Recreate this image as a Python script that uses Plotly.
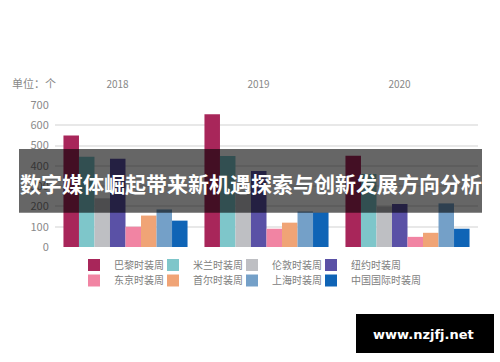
import plotly.graph_objects as go

years = ["2018", "2019", "2020"]
series_names = ["巴黎时装周", "米兰时装周", "伦敦时装周", "纽约时装周",
                "东京时装周", "首尔时装周", "上海时装周", "中国国际时装周"]
paris = [550, 655, 450]
milan = [445, 448, 360]
london = [240, 265, 200]
newyork = [435, 375, 212]
tokyo = [100, 90, 50]
seoul = [155, 120, 70]
shanghai = [185, 175, 215]
china = [130, 170, 90]
values = [paris, milan, london, newyork, tokyo, seoul, shanghai, china]
colors = ["#A8265A", "#7EC6CA", "#BEBFC3", "#5A51A6",
          "#F184A3", "#F0A476", "#74A0C8", "#0F64B6"]
y_ticks = [0, 100, 200, 300, 400, 500, 600, 700]
unit_label = "单位：个"
banner_title = "数字媒体崛起带来新机遇探索与创新发展方向分析"
watermark = "www.nzjfj.net"

CJK = "Noto Sans CJK SC, sans-serif"

fig = go.Figure()
for i, (name, vals, col) in enumerate(zip(series_names, values, colors)):
    fig.add_trace(go.Bar(
        x=years, y=vals, name=name, marker=dict(color=col, line=dict(width=0)),
        legend="legend" if i < 4 else "legend2",
        legendwidth=90 if i in (3, 7) else None,
    ))

W, H = 500, 362
ml, mr, mt, mb = 55, 22, 105, 115
pw, ph = W - ml - mr, H - mt - mb

def px(x):
    return (x - ml) / pw

def py(y):
    return (H - mb - y) / ph

legend_common = dict(
    orientation="h", xanchor="left", yanchor="middle",
    entrywidth=34, entrywidthmode="pixels",
    font=dict(family=CJK, size=10, color="#808080"),
    bgcolor="rgba(0,0,0,0)", itemclick=False, itemdoubleclick=False,
    tracegroupgap=0,
)

fig.update_layout(
    width=W, height=H,
    margin=dict(l=ml, r=mr, t=mt, b=mb, autoexpand=False),
    paper_bgcolor="white", plot_bgcolor="white",
    barmode="group", bargap=0.12, bargroupgap=0,
    font=dict(family=CJK),
    showlegend=True,
    legend=dict(x=px(74), y=py(265), **legend_common),
    legend2=dict(x=px(74), y=py(280.5), **legend_common),
    xaxis=dict(
        side="top", showgrid=False, zeroline=False, showline=False,
        tickfont=dict(family=CJK, size=10, color="#888888"),
        ticks="outside", ticklen=12, tickcolor="rgba(0,0,0,0)",
        ticklabelshift=-8,
    ),
    yaxis=dict(
        range=[0, 700], tickvals=y_ticks, showgrid=True,
        gridcolor="#E8E8E8", gridwidth=1.5, zeroline=False, showline=False,
        tickfont=dict(family=CJK, size=11, color="#8A8A8A"),
        ticks="outside", ticklen=3, tickcolor="rgba(0,0,0,0)",
    ),
    shapes=[
        dict(type="rect", xref="paper", yref="paper",
             x0=px(19), x1=px(482), y0=py(212.7), y1=py(149),
             fillcolor="rgba(0,0,0,0.6)", line=dict(width=0), layer="above"),
        dict(type="rect", xref="paper", yref="paper",
             x0=px(356), x1=px(494), y0=py(353), y1=py(314),
             fillcolor="black", line=dict(width=0), layer="above"),
    ],
    annotations=[
        dict(text=unit_label, xref="paper", yref="paper", x=px(10), y=py(83),
             xanchor="left", yanchor="middle", showarrow=False,
             font=dict(family=CJK, size=11, color="#888888")),
        dict(text="<b>" + banner_title + "</b>", xref="paper", yref="paper",
             x=px(250.5), y=py(183), xanchor="center", yanchor="middle",
             showarrow=False, font=dict(family=CJK, size=21, color="white")),
        dict(text="<b>" + watermark + "</b>", xref="paper", yref="paper",
             x=px(423), y=py(334), xanchor="center", yanchor="middle",
             showarrow=False, font=dict(family="DejaVu Sans, sans-serif", size=13, color="white")),
    ],
)

fig.write_html("out.html", config={"displayModeBar": False},
               post_script="document.body.style.margin='0';")
